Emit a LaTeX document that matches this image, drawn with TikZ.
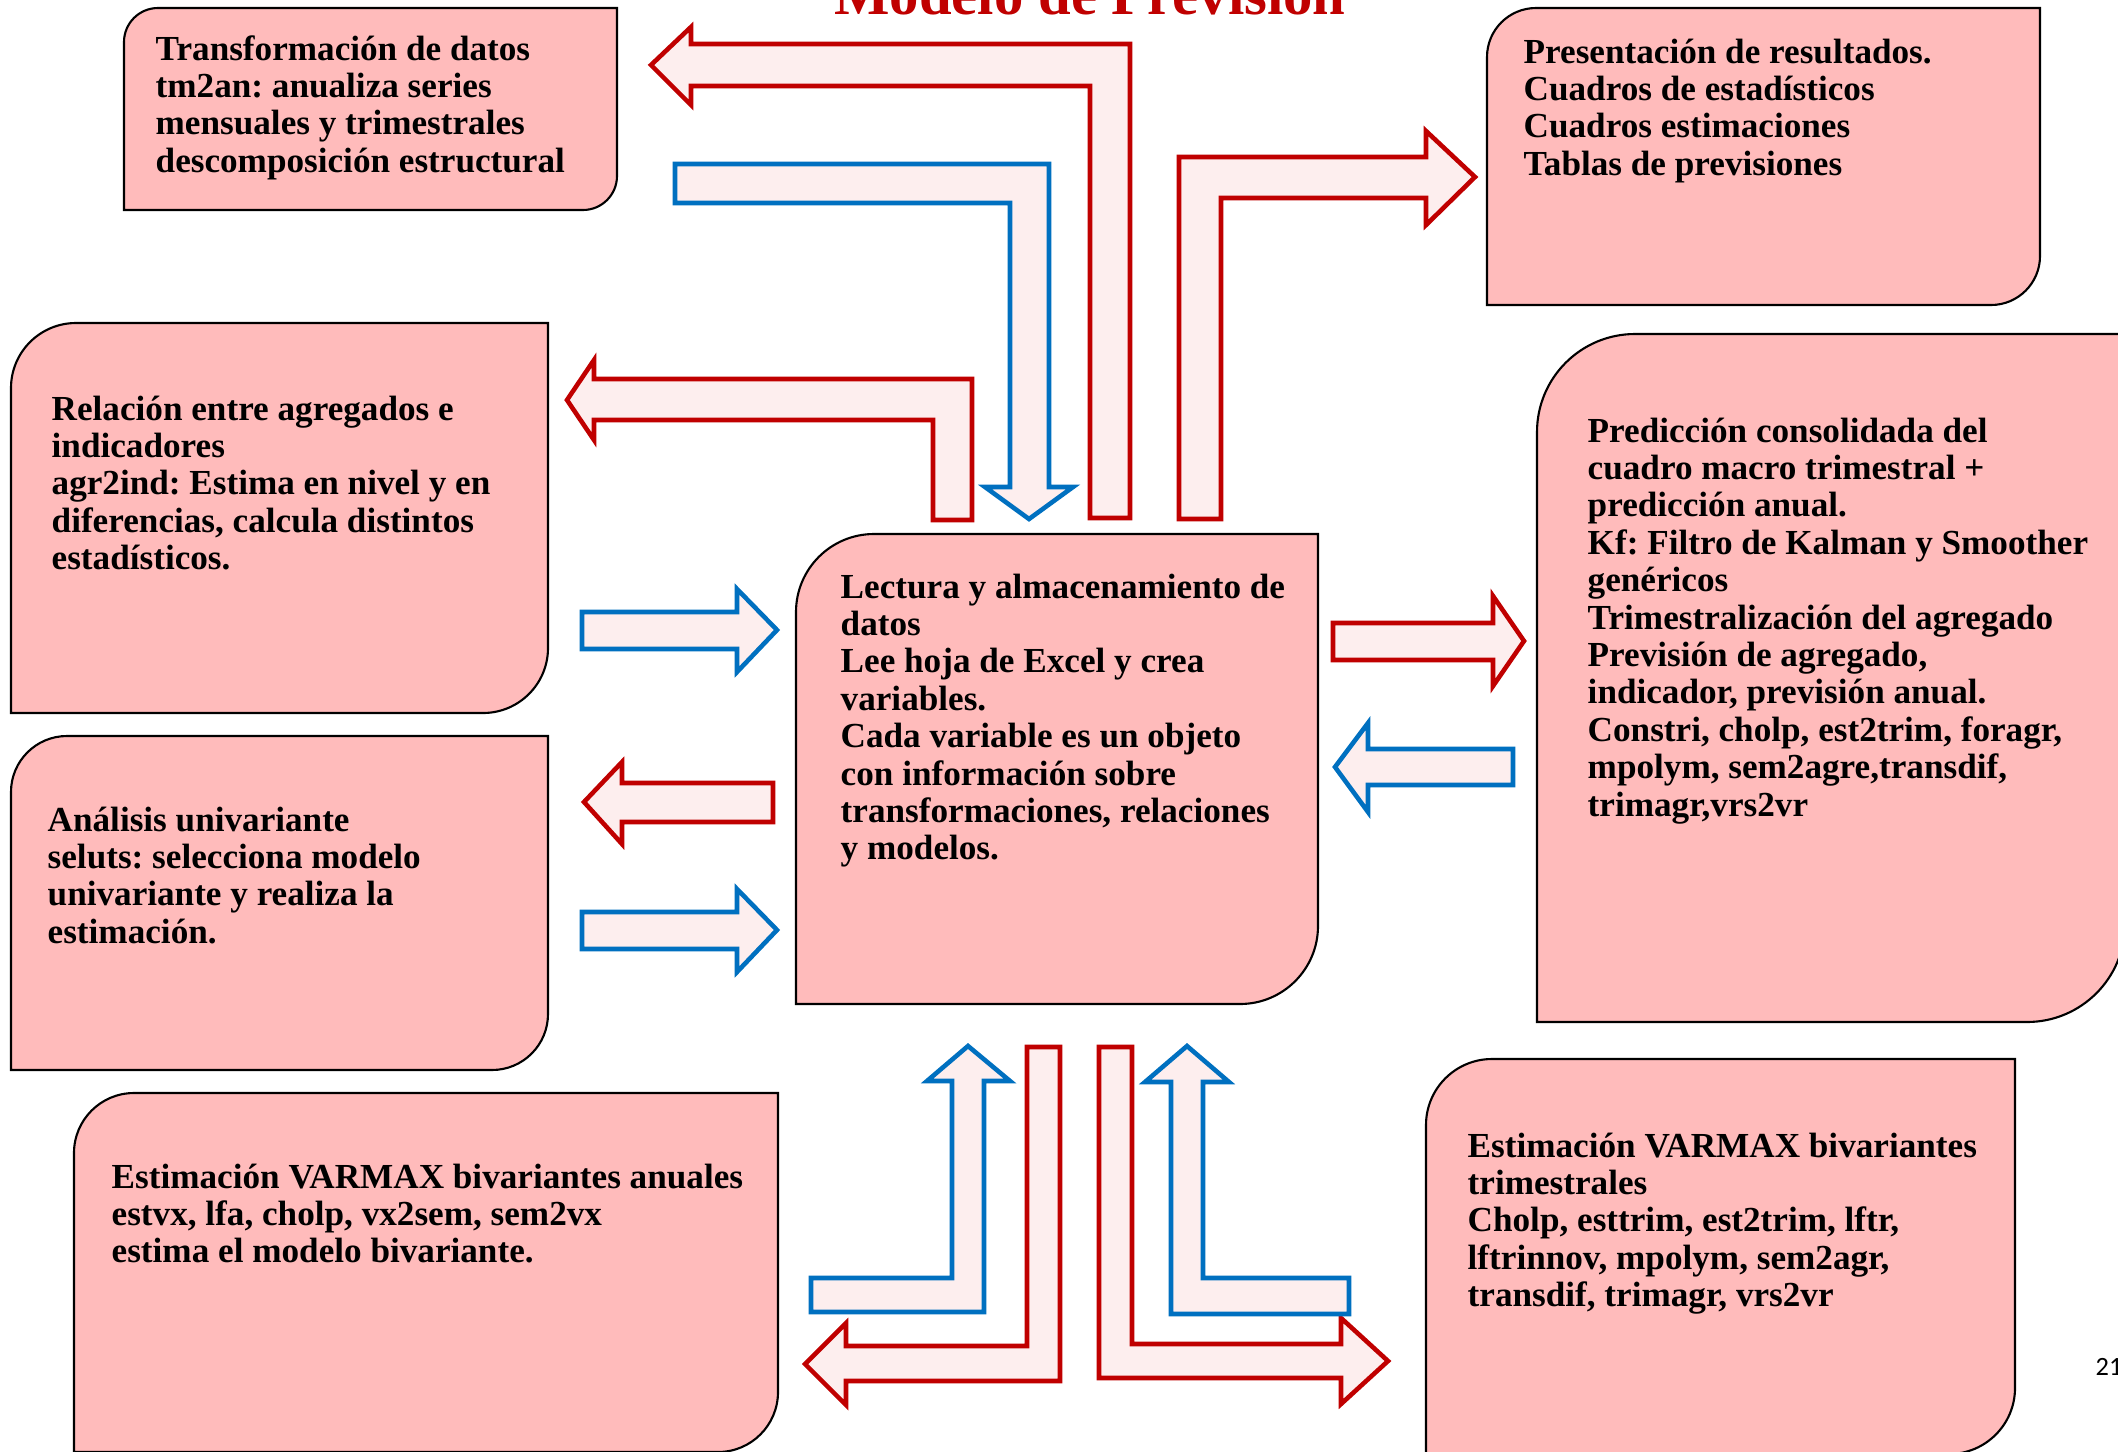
\documentclass[tikz,border=0pt]{standalone}
\usepackage{fontspec}
\setmainfont{Liberation Serif}
\newfontfamily\numfont{Carlito}
\frenchspacing
\definecolor{boxfill}{RGB}{255,187,187}
\definecolor{arrfill}{RGB}{253,238,238}
\definecolor{arred}{RGB}{192,0,0}
\definecolor{arblue}{RGB}{0,112,192}
\tikzset{
  boxsty/.style={draw=black, line width=0.6pt, fill=boxfill},
  boxtext/.style={anchor=base west, inner sep=0pt,
    font=\fontsize{10}{10.64}\selectfont\bfseries},
  redarrow/.style={draw=arred, fill=arrfill, line width=1.3pt, line join=miter},
  bluearrow/.style={draw=arblue, fill=arrfill, line width=1.3pt, line join=miter},
}
% lines of text, baseline at the first line
\newcommand\lns[1]{\begin{tabular}[t]{@{}l@{}}#1\end{tabular}}
% round-diagonal-corner box: x1,y1,x2,y2,r (y downward)
\newcommand\rdbox[5]{%
  \path[boxsty] (#1,#2+#5) .. controls (#1,#2+0.4477*#5) and (#1+0.4477*#5,#2) .. (#1+#5,#2)
    -- (#3,#2) -- (#3,#4-#5) .. controls (#3,#4-0.4477*#5) and (#3-0.4477*#5,#4) .. (#3-#5,#4)
    -- (#1,#4) -- cycle;}
\begin{document}
\begin{tikzpicture}[x=0.01cm,y=-0.01cm]
\useasboundingbox (0,0) rectangle (2118,1451);
\fill[white] (0,0) rectangle (2118,1451);

% title
\node[anchor=base, inner sep=0pt, text=arred, font=\fontsize{16.7}{18}\selectfont\bfseries] (title) at (1090,14) {Modelo de Previsión};

% boxes
\rdbox{124}{8}{617}{210}{34}
\rdbox{1487}{8}{2040}{305}{49}
\rdbox{11}{323}{548}{713}{65}
\rdbox{11}{736}{548}{1070}{56}
\rdbox{796}{534}{1318}{1004}{78}
\rdbox{1537}{334}{2125}{1022}{98}
\rdbox{74}{1093}{778}{1452}{60}
\rdbox{1426}{1059}{2015}{1454}{66}

% texts
\node[boxtext] (transf) at (155,60) {\lns{Transformación de datos\\tm2an: anualiza series\\mensuales y trimestrales\\descomposición estructural}};
\node[boxtext] (present) at (1523,63) {\lns{Presentación de resultados.\\Cuadros de estadísticos\\Cuadros estimaciones\\Tablas de previsiones}};
\node[boxtext] (relacion) at (51,420) {\lns{Relación entre agregados e\\indicadores\\agr2ind: Estima en nivel y en\\diferencias, calcula distintos\\estadísticos.}};
\node[boxtext] (analisis) at (47,831) {\lns{Análisis univariante\\seluts: selecciona modelo\\univariante y realiza la\\estimación.}};
\node[boxtext] (lectura) at (840,598) {\lns{Lectura y almacenamiento de\\datos\\Lee hoja de Excel y crea\\variables.\\Cada variable es un objeto\\con información sobre\\transformaciones, relaciones\\y modelos.}};
\node[boxtext] (prediccion) at (1587,442) {\lns{Predicción consolidada del\\cuadro macro trimestral +\\predicción anual.\\Kf: Filtro de Kalman y Smoother\\genéricos\\Trimestralización del agregado\\Previsión de agregado,\\indicador, previsión anual.\\Constri, cholp, est2trim, foragr,\\mpolym, sem2agre,transdif,\\trimagr,vrs2vr}};
\node[boxtext] (anuales) at (111,1188) {\lns{Estimación VARMAX bivariantes anuales\\estvx, lfa, cholp, vx2sem, sem2vx\\estima el modelo bivariante.}};
\node[boxtext] (trimes) at (1467,1157) {\lns{Estimación VARMAX bivariantes\\trimestrales\\Cholp, esttrim, est2trim, lftr,\\lftrinnov, mpolym, sem2agr,\\transdif, trimagr, vrs2vr}};

\node[anchor=base west, inner sep=0pt, font=\numfont\fontsize{7.5}{9}\selectfont] (pagenum) at (2095,1375) {21};

% top block arrows
\draw[redarrow] (1090,518) -- (1130,518) -- (1130,44) -- (691,44) -- (691,27) -- (651,65) -- (691,105) -- (691,86) -- (1090,86) -- cycle;
\draw[bluearrow] (675,164) -- (1049,164) -- (1049,487) -- (1073,487) -- (1029,519) -- (985,487) -- (1010,487) -- (1010,203) -- (675,203) -- cycle;
\draw[redarrow] (1179,519) -- (1179,157) -- (1426,157) -- (1426,131) -- (1475,177) -- (1426,225) -- (1426,198) -- (1221,198) -- (1221,519) -- cycle;
\draw[redarrow] (933,520) -- (933,420) -- (594,420) -- (594,440) -- (567,400) -- (594,360) -- (594,379) -- (972,379) -- (972,520) -- cycle;

% side arrows
\draw[bluearrow] (582,612) -- (737,612) -- (737,589) -- (777,630) -- (737,672) -- (737,649) -- (582,649) -- cycle;
\draw[redarrow] (773,783) -- (622,783) -- (622,762) -- (584,802) -- (622,844) -- (622,822) -- (773,822) -- cycle;
\draw[bluearrow] (582,912) -- (737,912) -- (737,889) -- (777,930) -- (737,972) -- (737,949) -- (582,949) -- cycle;
\draw[redarrow] (1333,623) -- (1493,623) -- (1493,596) -- (1524,641) -- (1493,686) -- (1493,660) -- (1333,660) -- cycle;
\draw[bluearrow] (1513,749) -- (1368,749) -- (1368,723) -- (1335,767) -- (1368,812) -- (1368,785) -- (1513,785) -- cycle;

% bottom block arrows
\draw[bluearrow] (811,1278) -- (952,1278) -- (952,1081) -- (927,1081) -- (968,1046) -- (1010,1081) -- (984,1081) -- (984,1312) -- (811,1312) -- cycle;
\draw[redarrow] (1027,1047) -- (1060,1047) -- (1060,1381) -- (846,1381) -- (846,1405) -- (805,1364) -- (846,1323) -- (846,1346) -- (1027,1346) -- cycle;
\draw[redarrow] (1099,1047) -- (1132,1047) -- (1132,1344) -- (1341,1344) -- (1341,1318) -- (1388,1361) -- (1341,1404) -- (1341,1378) -- (1099,1378) -- cycle;
\draw[bluearrow] (1171,1314) -- (1171,1082) -- (1145,1082) -- (1187,1046) -- (1229,1082) -- (1203,1082) -- (1203,1278) -- (1349,1278) -- (1349,1314) -- cycle;
\end{tikzpicture}
\end{document}
